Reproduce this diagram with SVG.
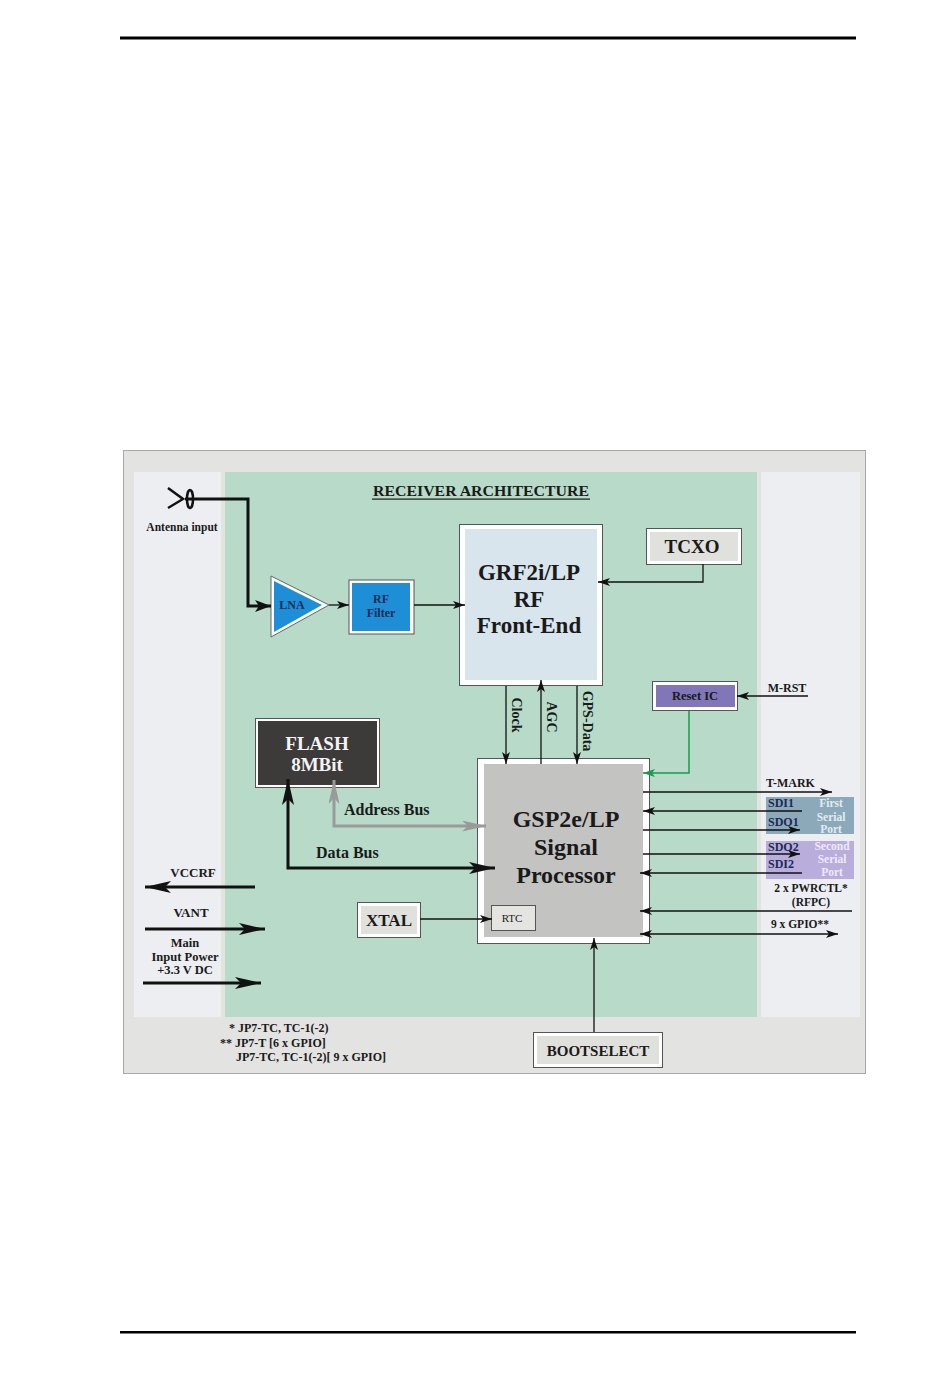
<svg xmlns="http://www.w3.org/2000/svg" width="950" height="1388" viewBox="0 0 950 1388">
<style>
text{font-family:"Liberation Serif","Times New Roman",serif;font-weight:bold;fill:#1a1a1a}
.c{text-anchor:middle}
.ln{fill:none;stroke:#111;stroke-width:1.3}
.th{fill:none;stroke:#111;stroke-width:3}
.box{fill:#fff;stroke:#555;stroke-width:1}
.nv{fill:#1c2a55}
.lt1{fill:#e2ecf2}
.lt2{fill:#efe9fb}
</style>
<defs>
<marker id="ms" viewBox="0 0 12 8" refX="12" refY="4" markerWidth="12" markerHeight="8" markerUnits="userSpaceOnUse" orient="auto-start-reverse"><path d="M0,0 L12,4 L0,8 L3,4z" fill="#111"/></marker>
<marker id="mm" viewBox="0 0 16 12" refX="16" refY="6" markerWidth="16" markerHeight="12" markerUnits="userSpaceOnUse" orient="auto-start-reverse"><path d="M0,0 L16,6 L0,12 L4,6z" fill="#111"/></marker>
<marker id="ml" viewBox="0 0 26 12" refX="26" refY="6" markerWidth="26" markerHeight="12" markerUnits="userSpaceOnUse" orient="auto-start-reverse"><path d="M0,0 L26,6 L0,12 L6,6z" fill="#111"/></marker>
<marker id="mg" viewBox="0 0 24 11" refX="24" refY="5.5" markerWidth="24" markerHeight="11" markerUnits="userSpaceOnUse" orient="auto-start-reverse"><path d="M0,0 L24,5.5 L0,11 L6,5.5z" fill="#9a9a9a"/></marker>
<marker id="mgr" viewBox="0 0 12 8" refX="12" refY="4" markerWidth="12" markerHeight="8" markerUnits="userSpaceOnUse" orient="auto-start-reverse"><path d="M0,0 L12,4 L0,8 L3,4z" fill="#1a9a4a"/></marker>
</defs>

<!-- page rules -->
<rect x="120" y="36.5" width="736" height="3" fill="#000"/>
<rect x="120" y="1331" width="736" height="2.5" fill="#000"/>

<!-- frame and panels -->
<g id="frame">
<rect x="123.5" y="450.5" width="742" height="623" fill="#e3e3e1" stroke="#a8a8a8" stroke-width="1"/>
<rect x="134" y="472" width="87" height="545" fill="#eceef2"/>
<rect x="225" y="472" width="532" height="545" fill="#b7dbc8"/>
<rect x="761" y="472" width="99" height="545" fill="#eceef2"/>
<text x="481" y="496" class="c" font-size="15.5" textLength="216" lengthAdjust="spacingAndGlyphs">RECEIVER ARCHITECTURE</text>
<rect x="372" y="498.5" width="218" height="1.2" fill="#1a1a1a"/>
</g>

<!-- antenna -->
<g id="antenna">
<path d="M168,488 L183,499 L168,508" fill="none" stroke="#111" stroke-width="2.5"/>
<ellipse cx="190" cy="499" rx="3" ry="9" fill="none" stroke="#111" stroke-width="2.5"/>
<text x="182" y="531" class="c" font-size="11.5">Antenna input</text>
</g>

<!-- LNA -->
<g id="lna">
<polygon points="271,576 271,637 329,605" fill="#fff" stroke="#666" stroke-width="1"/>
<polygon points="274,581 274,632 322,605" fill="#1e8fd6"/>
<text x="292" y="609" class="c nv" font-size="12">LNA</text>
</g>

<!-- RF filter -->
<g id="rffilter">
<rect x="349" y="580" width="65" height="54" class="box"/>
<rect x="352" y="583" width="58" height="48" fill="#1e8fd6"/>
<text x="381" y="603" class="c nv" font-size="12">RF</text>
<text x="381" y="617" class="c nv" font-size="12">Filter</text>
</g>

<!-- GRF2i/LP -->
<g id="grf">
<rect x="459.5" y="524.5" width="143" height="161" class="box"/>
<rect x="465" y="529" width="132" height="151" fill="#d8e5ec"/>
<text x="529" y="580" class="c" font-size="23">GRF2i/LP</text>
<text x="529" y="607" class="c" font-size="23">RF</text>
<text x="529" y="633" class="c" font-size="23">Front-End</text>
</g>

<!-- TCXO -->
<g id="tcxo">
<rect x="646.5" y="528.5" width="95" height="36" class="box"/>
<rect x="650" y="532" width="88" height="29" fill="#e0e0dc"/>
<text x="692" y="553" class="c" font-size="19">TCXO</text>
</g>

<!-- Reset IC -->
<g id="resetic">
<rect x="652.5" y="681.5" width="85" height="29" class="box"/>
<rect x="656" y="685" width="79" height="22" fill="#8076b8"/>
<text x="695" y="700" class="c" font-size="12.5">Reset IC</text>
</g>

<!-- FLASH -->
<g id="flash">
<rect x="255.5" y="718.5" width="124" height="69" class="box"/>
<rect x="258" y="721" width="119" height="64" fill="#3d3b39"/>
<text x="317" y="750" class="c" font-size="19" style="fill:#f4f4f4">FLASH</text>
<text x="317" y="771" class="c" font-size="19" style="fill:#f4f4f4">8MBit</text>
</g>

<!-- GSP2e/LP -->
<g id="gsp">
<rect x="477.5" y="758.5" width="172" height="185" class="box"/>
<rect x="484" y="764" width="159" height="173" fill="#c3c3c1"/>
<text x="566" y="827" class="c" font-size="24">GSP2e/LP</text>
<text x="566" y="855" class="c" font-size="24">Signal</text>
<text x="566" y="883" class="c" font-size="24">Processor</text>
</g>

<!-- RTC -->
<g id="rtc">
<rect x="491.5" y="905.5" width="44" height="25" fill="#e4e4e0" stroke="#555" stroke-width="1"/>
<text x="512" y="922" class="c" font-size="11" style="font-weight:normal">RTC</text>
</g>

<!-- XTAL -->
<g id="xtal">
<rect x="357.5" y="902.5" width="63" height="35" class="box"/>
<rect x="361" y="906" width="56" height="28" fill="#e0e0dc"/>
<text x="389" y="926" class="c" font-size="17">XTAL</text>
</g>

<!-- BOOTSELECT -->
<g id="bootselect">
<rect x="533.5" y="1032.5" width="129" height="35" class="box"/>
<rect x="537" y="1036" width="122" height="28" fill="#e0e0dc"/>
<text x="598" y="1056" class="c" font-size="15">BOOTSELECT</text>
</g>

<!-- serial port boxes -->
<g id="serial1">
<rect x="766" y="797" width="88" height="37" fill="#8ba9b9"/>
<text x="768" y="807" class="nv" font-size="12">SDI1</text>
<text x="768" y="826" class="nv" font-size="12">SDO1</text>
<text x="831" y="807" class="c lt1" font-size="11.5">First</text>
<text x="831" y="821" class="c lt1" font-size="11.5">Serial</text>
<text x="831" y="833" class="c lt1" font-size="11.5">Port</text>
</g>
<g id="serial2">
<rect x="766" y="841" width="88" height="38" fill="#b9aedb"/>
<text x="768" y="851" class="nv" font-size="12">SDO2</text>
<text x="768" y="868" class="nv" font-size="12">SDI2</text>
<text x="832" y="850" class="c lt2" font-size="11.5">Second</text>
<text x="832" y="863" class="c lt2" font-size="11.5">Serial</text>
<text x="832" y="876" class="c lt2" font-size="11.5">Port</text>
</g>

<!-- connectors -->
<g id="connectors">
<path class="th" d="M185,499 H248 V606 H271" marker-end="url(#mm)"/>
<path class="ln" d="M329,605 H349" marker-end="url(#ms)"/>
<path class="ln" d="M414,605 H465" marker-end="url(#ms)"/>
<path class="ln" d="M703,564 V582 H598" marker-end="url(#ms)"/>
<path class="ln" d="M506,686 V764" marker-end="url(#ms)"/>
<path class="ln" d="M541,764 V680" marker-end="url(#ms)"/>
<path class="ln" d="M577,686 V764" marker-end="url(#ms)"/>
<path class="ln" d="M808,696 H737" marker-end="url(#ms)"/>
<path d="M689,711 V773 H643" fill="none" stroke="#1a9a4a" stroke-width="1.5" marker-end="url(#mgr)"/>
<path class="th" d="M288,779 V868 H495" marker-start="url(#ml)" marker-end="url(#ml)"/>
<path d="M334,780 V826 H486" fill="none" stroke="#9a9a9a" stroke-width="3" marker-start="url(#mg)" marker-end="url(#mg)"/>
<path class="th" d="M255,887 H145" marker-end="url(#ml)"/>
<path class="th" d="M145,929 H265" marker-end="url(#ml)"/>
<path class="th" d="M143,983 H261" marker-end="url(#ml)"/>
<path class="ln" d="M420,919 H492" marker-end="url(#ms)"/>
<path class="ln" d="M594,1032 V938" marker-end="url(#ms)"/>
<path class="ln" d="M643,792 H832" marker-end="url(#ms)"/>
<path class="ln" d="M802,811 H643" marker-end="url(#ms)"/>
<path class="ln" d="M643,830 H800" marker-end="url(#ms)"/>
<path class="ln" d="M643,854 H800" marker-end="url(#ms)"/>
<path class="ln" d="M802,873 H640" marker-end="url(#ms)"/>
<path class="ln" d="M852,911 H640" marker-end="url(#ms)"/>
<path class="ln" d="M640,934 H838" marker-start="url(#ms)" marker-end="url(#ms)"/>
</g>

<!-- connector labels -->
<g id="labels">
<text x="512" y="715" font-size="14" text-anchor="middle" transform="rotate(90 512 715)">Clock</text>
<text x="547" y="717" font-size="14" text-anchor="middle" transform="rotate(90 547 717)">AGC</text>
<text x="583" y="721" font-size="14" text-anchor="middle" transform="rotate(90 583 721)">GPS-Data</text>
<text x="787" y="692" class="c" font-size="12">M-RST</text>
<text x="344" y="815" font-size="16">Address Bus</text>
<text x="316" y="858" font-size="16">Data Bus</text>
<text x="193" y="877" class="c" font-size="13">VCCRF</text>
<text x="191" y="917" class="c" font-size="13">VANT</text>
<text x="185" y="947" class="c" font-size="12.5">Main</text>
<text x="185" y="961" class="c" font-size="12.5">Input Power</text>
<text x="185" y="974" class="c" font-size="12.5">+3.3 V DC</text>
<text x="766" y="787" font-size="12">T-MARK</text>
<text x="811" y="892" class="c" font-size="11.5">2 x PWRCTL*</text>
<text x="811" y="906" class="c" font-size="11.5">(RFPC)</text>
<text x="800" y="928" class="c" font-size="11.5">9 x GPIO**</text>
<text x="229" y="1032" font-size="12">* JP7-TC, TC-1(-2)</text>
<text x="220" y="1047" font-size="12">** JP7-T [6 x GPIO]</text>
<text x="236" y="1061" font-size="12">JP7-TC, TC-1(-2)[ 9 x GPIO]</text>
</g>
</svg>
